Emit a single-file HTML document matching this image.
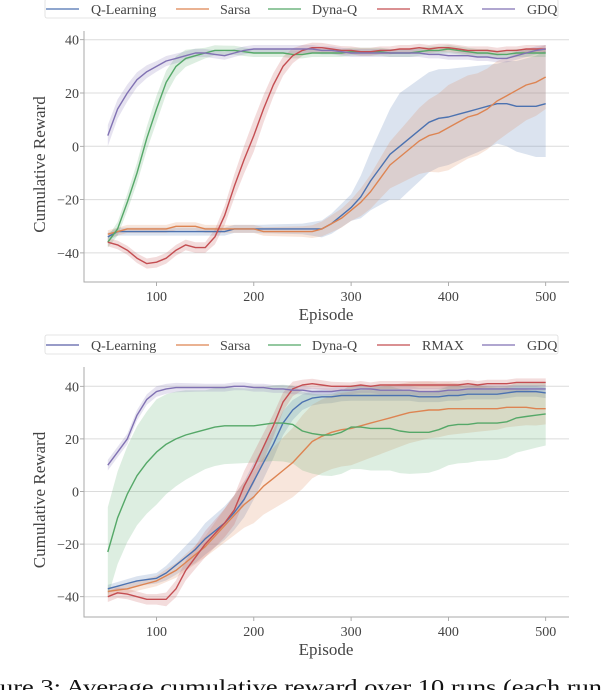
<!DOCTYPE html>
<html><head><meta charset="utf-8">
<style>
html,body{margin:0;padding:0;background:#fff;}
svg{display:block;font-family:"Liberation Serif",serif;}
</style></head>
<body>
<svg id="fig" width="602" height="690" viewBox="0 0 602 690" xmlns="http://www.w3.org/2000/svg"></svg>
<script>
const episodes = [50,60,70,80,90,100,110,120,130,140,150,160,170,180,190,200,210,220,230,240,250,260,270,280,290,300,310,320,330,340,350,360,370,380,390,400,410,420,430,440,450,460,470,480,490,500];
const bandEpisodes = [50,100,150,200,250,300,350,400,450,500];
const seriesNames = ["Q-Learning","Sarsa","Dyna-Q","RMAX","GDQ"];
const seriesColors = ["#4c72b0","#dd8452","#55a868","#c44e52","#8172b3"];
const yTicks = [-40,-20,0,20,40];
const xTicks = [100,200,300,400,500];

// Top panel
const topQ = [-34,-32,-32,-32,-32,-32,-32,-32,-32,-32,-32,-32,-32,-31,-31,-31,-31,-31,-31,-31,-31,-31,-31,-29,-26,-23,-19,-13,-8,-3,0,3,6,9,10.5,11,12,13,14,15,16,16,15,15,15,16];
const topS = [-33,-32,-31,-31,-31,-31,-31,-30,-30,-30,-31,-31,-31,-31,-31,-31,-32,-32,-32,-32,-32,-32,-31,-29,-27,-24,-21,-17,-12,-7,-4,-1,2,4,5,7,9,11,12,14,17,19,21,23,24,26];
const topD = [-36,-31,-21,-10,3,14,24,30,33,34,35,36,36,36,35.5,35,35,35,35,34.5,34.5,35,35,35,35,35.5,35.5,35.5,35.5,35,35,35,35.5,36,36,36.5,36,35.5,35,35,34.5,34.5,35,35,35,35];
const topR = [-36,-37,-39,-42,-44,-43.5,-42,-39,-37,-38,-38,-34,-26,-15,-5,4,14,23,30,34,36,37,37,36.5,36,36,35.5,35.5,36,36,36.5,36.5,37,36.5,37,37,36.5,36,36,36,35.5,36,36,36.5,36.5,36.5];
const topG = [4,14,20,25,28,30,32,33,34,35,35,34.5,34,35,36,36.5,36.5,36.5,36.5,36.5,36.5,36.5,36,36,35.5,35,35,35,35,35,35,35,35,34.5,34.5,34,34,34,33.5,33.5,33,33,34,35,36,36.5];
const topBandQ = [1.5,1.5,1.5,1.5,2,5,20,18,15,20];
const topBandS = [1.5,1.5,1.5,1.5,2,4,10,16,15,12];
const topBandD = [2,5,2,1.5,1.5,1.5,1.5,1.5,1.5,1.5];
const topBandR = [1.5,2,2,6,2,1.5,1.5,1.5,1.5,1.5];
const topBandG = [4,2,1.5,1.5,1.5,1.5,1.5,1.5,1.5,1.5];

// Bottom panel
const botQ = [-37,-36,-35,-34,-33.5,-33,-31,-28,-25,-22,-18,-15,-12,-8,-3,4,11,18,26,31,34,35.5,36,36,36.5,36.5,36.5,36.5,36.5,36.5,36.5,36.5,36,36,36,36.5,36.5,37,37,37,37,37.5,38,38,38,37.5];
const botS = [-38,-37.5,-37,-36,-35,-34,-32,-30,-27,-24,-21,-17,-13,-9,-5,-2,2,5,8,11,15,19,21,22.5,23.5,24,25,26,27,28,29,30,30.5,31,31,31.5,31.5,31.5,31.5,31.5,31.5,32,32,32,31.5,31.5];
const botD = [-23,-10,-1,6,11,15,18,20,21.5,22.5,23.5,24.5,25,25,25,25,25.5,26,26,25.5,23,22,21.5,21.5,22.5,24.5,24.5,24,24,24,23,22.5,22.5,22.5,23.5,25,25.5,25.5,26,26,26,26.5,28,28.5,29,29.5];
const botR = [-40,-38.5,-39,-40,-41,-41,-41,-37,-30,-25,-20,-16,-12,-7,2,9,17,25,34,39,40.5,41,40.5,40,40,40,40.5,40,40.5,40.5,40.5,40.5,40.5,40.5,40.5,40.5,40.5,41,40.5,41,41,41,41.5,41.5,41.5,41.5];
const botG = [10,15,20,29,35,38,39,39.5,39.5,39.5,39.5,39.5,39.5,40,40,39.5,39.5,39,39,38.5,38.5,38,38,38,38.5,38.5,39,39,38.5,38.5,38.5,38.5,38,38,38,38.5,38.5,39,39,39,39,39,39,39,39,39];
const botBandQ = [1.5,2,6,7,3,2,2,2,2,2];
const botBandS = [1.5,2,4,10,14,14,12,10,8,6];
const botBandD = [17,20,15,14,15,16,16,15,14,12];
const botBandR = [2,2,5,6,2,1.5,1.5,1.5,1.5,1.5];
const botBandG = [2,2,1.5,1.5,1.5,1.5,1.5,1.5,1.5,1.5];

const NS = "http://www.w3.org/2000/svg";
const svg = document.getElementById("fig");
function mk(tag, attrs, parent){
  const e = document.createElementNS(NS, tag);
  for (const k in attrs) e.setAttribute(k, attrs[k]);
  (parent||svg).appendChild(e);
  return e;
}
function interpBand(band, ep){
  for (let i=0;i<bandEpisodes.length-1;i++){
    if (ep<=bandEpisodes[i+1]){
      const t=(ep-bandEpisodes[i])/(bandEpisodes[i+1]-bandEpisodes[i]);
      return band[i]+(band[i+1]-band[i])*t;
    }
  }
  return band[band.length-1];
}

function legend(y0, lineColors){
  const g = mk("g", {});
  
  
  const box = mk("rect", {x:45, y:y0, width:513, height:19, rx:2, fill:"#fff", stroke:"#ddd", "stroke-width":0.8}, g);
  
  
  const lineX = [46,176,268,377,482];
  const textX = [91,220,312,422,527];
  for (let i=0;i<5;i++){
    const ln = mk("line", {x1:lineX[i], x2:lineX[i]+33, y1:y0+10, y2:y0+10, stroke:lineColors[i], "stroke-width":1.3}, g);
    
    
    const t = mk("text", {x:textX[i], y:y0+15, "font-size":14, fill:"#444"}, g);
    t.textContent = seriesNames[i];
    
    
  }
}

function panel(cfg){
  const L=84, R=569, top=cfg.top, bottom=cfg.bottom;
  const xs = ep => 156.5 + (ep-100)*0.973;
  const ys = v => cfg.y0 - v*cfg.k;
  const g = mk("g", {});
  
  
  yTicks.forEach(v=>{
    const gl = mk("line", {x1:L, x2:R, y1:ys(v), y2:ys(v), stroke:"#dcdcdc", "stroke-width":1}, g);
    
    
    const tk = mk("line", {x1:L-4, x2:L, y1:ys(v), y2:ys(v), stroke:"#999", "stroke-width":0.8}, g);
    
    
    const t = mk("text", {x:L-5, y:ys(v)+5, "font-size":14, fill:"#444", "text-anchor":"end"}, g);
    t.textContent = v<0 ? "\u2212"+Math.abs(v) : String(v);
    
    
  });
  xTicks.forEach(v=>{
    const tk = mk("line", {x1:xs(v), x2:xs(v), y1:bottom, y2:bottom+4, stroke:"#999", "stroke-width":0.8}, g);
    
    
    const t = mk("text", {x:xs(v), y:bottom+19, "font-size":14, fill:"#444", "text-anchor":"middle"}, g);
    t.textContent = String(v);
    
    
  });
  const sp = mk("path", {d:`M${L},${top} V${bottom} H${R}`, fill:"none", stroke:"#aaa", "stroke-width":1}, g);
  
  
  const xt = mk("text", {x:326, y:bottom+38, "font-size":17, fill:"#444", "text-anchor":"middle"}, g);
  xt.textContent = "Episode";
  
  
  const cy = (top+bottom)/2 + 8;
  const yt = mk("text", {x:0, y:0, "font-size":17, fill:"#444", "text-anchor":"middle", transform:`translate(45,${cy}) rotate(-90)`}, g);
  yt.textContent = "Cumulative Reward";
  
  

  cfg.series.forEach((vals, si)=>{
    const band = cfg.bands[si];
    let up="", lo="";
    episodes.forEach((ep,i)=>{
      const b = interpBand(band, ep);
      up += (i?"L":"M") + xs(ep).toFixed(1) + "," + ys(vals[i]+b).toFixed(1);
    });
    for (let i=episodes.length-1;i>=0;i--){
      const b = interpBand(band, episodes[i]);
      lo += "L" + xs(episodes[i]).toFixed(1) + "," + ys(vals[i]-b).toFixed(1);
    }
    const bp = mk("path", {d:up+lo+"Z", fill:seriesColors[si], "fill-opacity":0.2, stroke:"none"}, g);
    
    
  });
  cfg.series.forEach((vals, si)=>{
    let d="";
    episodes.forEach((ep,i)=>{ d += (i?"L":"M") + xs(ep).toFixed(1) + "," + ys(vals[i]).toFixed(1); });
    const p = mk("path", {d:d, fill:"none", stroke:seriesColors[si], "stroke-width":1.4, "stroke-linejoin":"round"}, g);
    
    
  });
}

legend(-1, seriesColors);
panel({name:"top-chart", top:31, bottom:282, y0:146.3, k:2.665,
  series:[topQ,topS,topD,topR,topG], bands:[topBandQ,topBandS,topBandD,topBandR,topBandG]});
legend(335, ["#5a5fa6","#dd8452","#55a868","#c44e52","#8172b3"]);
panel({name:"bottom-chart", top:367, bottom:617, y0:491.5, k:2.63,
  series:[botQ,botS,botD,botR,botG], bands:[botBandQ,botBandS,botBandD,botBandR,botBandG]});

const cap = mk("text", {x:0, y:694, "font-size":21, fill:"#111", textLength:602, lengthAdjust:"spacingAndGlyphs"});
cap.textContent = "ure 3:  Average cumulative reward over 10 runs (each run";


</script>
</body></html>
